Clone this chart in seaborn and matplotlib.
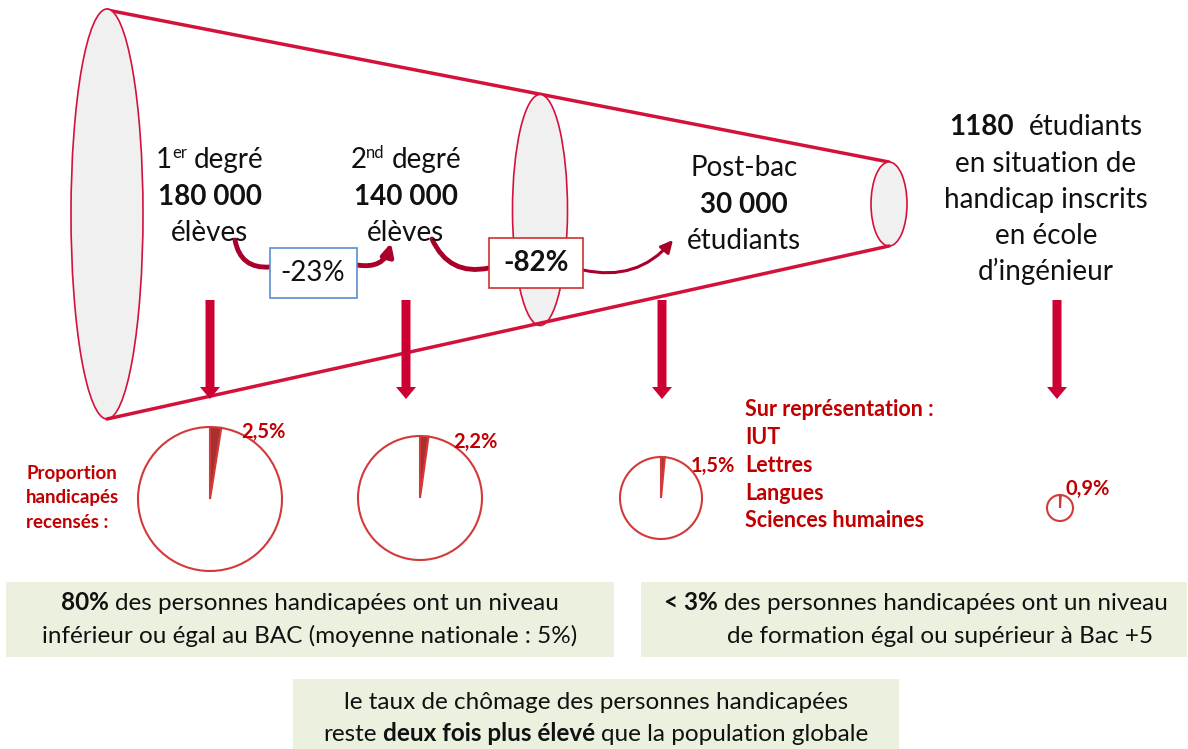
import numpy as np
import matplotlib
matplotlib.use('Agg')
import matplotlib.pyplot as plt
import seaborn as sns
from matplotlib.patches import Ellipse, Rectangle, FancyArrowPatch

sns.set_theme(style='white')
plt.rcParams['font.family'] = ['Lato', 'DejaVu Sans']

# Données
niveaux = ['1', '2', 'Post-bac']
exposants = ['er', 'nd', '']
effectifs = [180000, 140000, 30000]
unites = ['élèves', 'élèves', 'étudiants']
ecole_ing = 1180
baisses = ['-23%', '-82%']
pct_handicap = [2.5, 2.2, 1.5, 0.9]
pct_labels = ['2,5%', '2,2%', '1,5%', '0,9%']
sur_rep = ['IUT', 'Lettres', 'Langues', 'Sciences humaines']

# Couleurs
ROUGE = '#c00000'
ROUGE_CONE = '#d3123c'
ROUGE_FLECHE = '#cc0033'
ROUGE_COURBE = '#a8002a'
GRIS = '#f0f0f0'
VERT = '#ebf0df'
NOIR = '#111111'

W, H = 1188, 749
fig = plt.figure(figsize=(W / 100, H / 100), dpi=100)
ax = fig.add_axes([0, 0, 1, 1])
rend = fig.canvas.get_renderer()


def largeur(t):
    return t.get_window_extent(rend).width


def rich(x, y, parts, size, color=NOIR):
    # parts : (texte, gras, echelle, montee)
    arts = []
    for txt, bold, sc, rise in parts:
        t = ax.text(0, y - rise, txt, fontsize=size * sc, color=color,
                    fontweight='bold' if bold else 'normal',
                    ha='left', va='baseline', zorder=10)
        arts.append(t)
    sp = ax.text(0, 0, 'x x', fontsize=size)
    sp2 = ax.text(0, 0, 'xx', fontsize=size)
    esp = largeur(sp) - largeur(sp2)
    sp.remove()
    sp2.remove()
    ws = []
    for (txt, *_), t in zip(parts, arts):
        lead = len(txt) - len(txt.lstrip(' '))
        trail = len(txt) - len(txt.rstrip(' '))
        t.set_text(txt.strip(' '))
        ws.append((largeur(t), lead * esp, trail * esp))
    total = sum(a + b + c for a, b, c in ws)
    x0 = x - total / 2
    for t, (w, lead, trail) in zip(arts, ws):
        x0 += lead
        t.set_x(x0)
        x0 += w + trail


# Cône
ax.plot([107, 889], [10, 162], color=ROUGE_CONE, lw=2.5, zorder=2)
ax.plot([107, 889], [419, 246], color=ROUGE_CONE, lw=2.5, zorder=4)
for (cx, cy, w, h) in [(107, 214, 72, 410), (540, 210, 55, 231), (889, 204, 36, 84)]:
    ax.add_patch(Ellipse((cx, cy), w, h, fc=GRIS, ec=ROUGE_CONE, lw=1.2, zorder=3))

# Textes des niveaux
pos_niveaux = [(210, 160), (406, 160), (744, 168)]
for (x, y), niv, exp, eff, unit in zip(pos_niveaux, niveaux, exposants, effectifs, unites):
    if exp:
        rich(x, y + 8, [(niv, False, 1, 0), (exp, False, 0.6, 10), (' degré', False, 1, 0)], 20)
    else:
        rich(x, y + 8, [(niv, False, 1, 0)], 20)
    rich(x, y + 45, [(f'{eff:,}'.replace(',', ' '), True, 1, 0)], 20)
    rich(x, y + 81, [(unit, False, 1, 0)], 20)

droite = ['en situation de', 'handicap inscrits', 'en école', 'd’ingénieur']
rich(1046, 135, [(str(ecole_ing), True, 1, 0), ('  étudiants', False, 1, 0)], 20)
for i, l in enumerate(droite):
    rich(1046, 172 + i * 36, [(l, False, 1, 0)], 20)

# Boîtes de baisse
ax.add_patch(Rectangle((270, 248), 87, 50, fc='white', ec='#5b8fd0', lw=1.2, zorder=6))
ax.add_patch(Rectangle((489, 238), 94, 50, fc='white', ec='#d03030', lw=1.2, zorder=6))
rich(313, 281, [(baisses[0], False, 1, 0)], 20)
rich(536, 271, [(baisses[1], True, 1, 0)], 20)

# Flèches courbes
courbes = [((235, 240), (270, 267), 0.45, '-', 3.5), ((357, 265), (391, 243), 0.45, '-|>', 3.5),
           ((432, 239), (489, 268), 0.4, '-', 3.5), ((583, 270), (673, 240), 0.3, '-|>', 2.2)]
for a, b, rad, st, lw in courbes:
    ax.add_patch(FancyArrowPatch(a, b, connectionstyle=f'arc3,rad={rad}', arrowstyle=st,
                                 mutation_scale=18, lw=lw, color=ROUGE_COURBE,
                                 shrinkA=0, shrinkB=0, zorder=5))

# Flèches verticales
for x in [210, 406, 662, 1057]:
    ax.arrow(x, 300, 0, 99, width=9, head_width=20, head_length=12,
             length_includes_head=True, color=ROUGE_FLECHE, lw=0, zorder=5)

# Camemberts
centres = [(210, 499), (420, 498), (661, 498), (1060, 508)]
rayons = [72, 62, 41, 13]
for (cx, cy), r, p in zip(centres, rayons, pct_handicap):
    ax.pie([p, 100 - p], colors=['#a8302f', 'white'], center=(cx, cy), radius=r,
           startangle=-90, counterclock=True, frame=True,
           wedgeprops=dict(edgecolor='#d23a3a', linewidth=1.5))
pos_labels = [(241, 432), (453, 442), (691, 466), (1065, 489)]
for (x, y), lab in zip(pos_labels, pct_labels):
    ax.text(x, y, lab, fontsize=14.5, fontweight='bold', color=ROUGE,
            ha='left', va='center', zorder=10)

for i, l in enumerate(['Proportion', 'handicapés', 'recensés :']):
    ax.text(26, 473 + i * 24.5, l, fontsize=13.5, fontweight='bold', color=ROUGE,
            ha='left', va='center')
for i, l in enumerate(['Sur représentation :'] + sur_rep):
    ax.text(745, 410 + i * 27.7, l, fontsize=15.5, fontweight='bold', color=ROUGE,
            ha='left', va='center')

# Encadrés du bas
ax.add_patch(Rectangle((6, 582), 608, 75, fc=VERT, ec='none', zorder=1))
ax.add_patch(Rectangle((641, 582), 546, 75, fc=VERT, ec='none', zorder=1))
ax.add_patch(Rectangle((293, 679), 606, 80, fc=VERT, ec='none', zorder=1))
fs = 17.5
rich(310, 610, [('80%', True, 1, 0), (' des personnes handicapées ont un niveau', False, 1, 0)], fs)
rich(310, 643, [('inférieur ou égal au BAC (moyenne nationale : 5%)', False, 1, 0)], fs)
rich(916, 610, [('< 3%', True, 1, 0), (' des personnes handicapées ont un niveau', False, 1, 0)], fs)
rich(940, 643, [('de formation égal ou supérieur à Bac +5', False, 1, 0)], fs)
rich(596, 709, [('le taux de chômage des personnes handicapées', False, 1, 0)], fs)
rich(596, 741, [('reste ', False, 1, 0), ('deux fois plus élevé', True, 1, 0),
                (' que la population globale', False, 1, 0)], fs)

ax.set_xlim(0, W)
ax.set_ylim(H, 0)
ax.set_aspect('auto')
ax.axis('off')
fig.savefig('out.png', dpi=100, facecolor='white')
